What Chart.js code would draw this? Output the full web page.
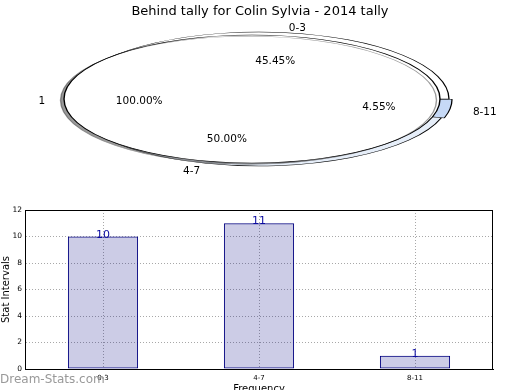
<!DOCTYPE html>
<html>
<head>
<meta charset="utf-8">
<script src="https://cdn.jsdelivr.net/npm/chart.js@4.4.1/dist/chart.umd.min.js"></script>
<style>
    html, body { margin: 0; padding: 0; background: #fff; overflow: hidden; }
    #wrap { position: relative; width: 520px; height: 390px; }
    #pieBox { position: absolute; left: 0; top: 0; width: 520px; height: 195px; }
    #barBox { position: absolute; left: 0; top: 195px; width: 520px; height: 200px; }
    #mark { position: absolute; left: 0; top: 372px; font: 12px "DejaVu Sans", sans-serif; color: #999; }
</style>
</head>
<body>
<div id="wrap">
    <div id="pieBox"><canvas id="pieChart"></canvas></div>
    <div id="barBox"><canvas id="barChart"></canvas></div>
    <div id="mark">Dream-Stats.com</div>
</div>
<script>
// ===================== DATA =====================
const chartTitle = 'Behind tally for Colin Sylvia - 2014 tally';
const categories = ['0-3', '4-7', '8-11'];
const tallies = [10, 11, 1];
const totalLabels = ['1'];
const totalValues = [1];
const yTicks = [0, 2, 4, 6, 8, 10, 12];

Chart.defaults.font.family = '"DejaVu Sans", sans-serif';
Chart.defaults.color = '#000';

// ellipse shapes for the two pies (matplotlib stretched them)
const ringShape = { cx: 259, cy: 99, rx: 190, ry: 67 };
const pieShape = { cx: 252, cy: 99, rx: 188, ry: 64 };

// pie draws clockwise from east, matplotlib counter-clockwise -> reverse
const ringNames = categories.slice().reverse();
const ringValues = tallies.slice().reverse();

function shapeFor(i) {
    return i === 0 ? ringShape : pieShape;
}

const ellipsePlugin = {
    id: 'ellipse',
    beforeDatasetDraw(chart, args) {
        const shape = shapeFor(args.index);
        const arc = args.meta.data[0];
        const r = arc.outerRadius;
        const ctx = chart.ctx;
        ctx.save();
        ctx.translate(shape.cx, shape.cy);
        ctx.scale(shape.rx / r, shape.ry / r);
        ctx.translate(-arc.x, -arc.y);
        if (args.index === 1) {
            ctx.shadowColor = 'rgba(70,70,70,0.55)';
            ctx.shadowOffsetX = -3.5;
            ctx.shadowOffsetY = 1.3;
        }
    },
    afterDatasetDraw(chart, args) {
        const ctx = chart.ctx;
        if (args.index === 1) {
            // outline of the full slice without the radial seam
            const arc = args.meta.data[0];
            ctx.beginPath();
            ctx.arc(arc.x, arc.y, arc.outerRadius, 0, Math.PI * 2);
            ctx.lineWidth = 0.45;
            ctx.strokeStyle = '#000';
            ctx.stroke();
        }
        ctx.restore();
    },
    afterDatasetsDraw(chart) {
        const ctx = chart.ctx;
        ctx.save();
        ctx.font = '10.5px "DejaVu Sans"';
        ctx.fillStyle = '#000';
        chart.data.datasets.forEach((ds, i) => {
            const meta = chart.getDatasetMeta(i);
            const shape = shapeFor(i);
            const total = ds.data.reduce((a, b) => a + b, 0);
            meta.data.forEach((arc, j) => {
                const mid = (arc.startAngle + arc.endAngle) / 2;
                const off = arc.options.offset || 0;
                const r = arc.outerRadius;
                const pt = k => ({
                    x: shape.cx + shape.rx / r * Math.cos(mid) * (k * r + off),
                    y: shape.cy + 2 + shape.ry / r * Math.sin(mid) * (k * r + off)
                });
                const lp = pt(1.1);
                ctx.textBaseline = 'middle';
                ctx.textAlign = Math.cos(mid) >= 0 ? 'left' : 'right';
                ctx.fillText(ds.names[j], lp.x, lp.y);
                const pp = pt(0.6);
                ctx.textAlign = 'center';
                ctx.fillText((ds.data[j] / total * 100).toFixed(2) + '%', pp.x, pp.y);
            });
        });
        ctx.restore();
    }
};

new Chart(document.getElementById('pieChart'), {
    type: 'pie',
    data: {
        labels: ringNames,
        datasets: [{
            data: ringValues,
            names: ringNames,
            weight: 1,
            order: 1,
            backgroundColor: ['#c6d9f6', '#e6eef9', '#ffffff'],
            borderColor: '#000',
            borderWidth: 0.45,
            offset: [2.5, 0, 0],
            clip: false
        }, {
            data: totalValues,
            names: totalLabels,
            weight: 9,
            order: 0,
            backgroundColor: '#ffffff',
            borderWidth: 0,
            clip: false
        }]
    },
    options: {
        responsive: true,
        maintainAspectRatio: false,
        animation: false,
        rotation: 90,
        radius: 67,
        plugins: {
            legend: { display: false },
            tooltip: { enabled: false },
            title: {
                display: true,
                text: chartTitle,
                color: '#000',
                font: { size: 13, weight: 'normal' },
                padding: { top: 4, bottom: 0 }
            }
        }
    },
    plugins: [ellipsePlugin]
});

// ===================== BAR CHART =====================
const framePlugin = {
    id: 'frame',
    afterDatasetsDraw(chart) {
        const ctx = chart.ctx;
        const a = chart.chartArea;
        ctx.save();
        ctx.strokeStyle = '#000';
        ctx.lineWidth = 1;
        ctx.strokeRect(Math.round(a.left) + 0.5, Math.round(a.top) + 0.5,
            Math.round(a.right - a.left) - 1, Math.round(a.bottom - a.top));

        // value labels above bars
        ctx.font = '11px "DejaVu Sans"';
        ctx.fillStyle = '#0a0aa0';
        ctx.textAlign = 'center';
        ctx.textBaseline = 'alphabetic';
        chart.getDatasetMeta(0).data.forEach((bar, i) => {
            ctx.fillText(String(chart.data.datasets[0].data[i]), bar.x, bar.y + 1);
        });
        ctx.restore();
    }
};

new Chart(document.getElementById('barChart'), {
    type: 'bar',
    data: {
        labels: categories,
        datasets: [{
            data: tallies,
            backgroundColor: 'rgba(0,0,128,0.2)',
            borderColor: '#000080',
            borderWidth: 1,
            borderSkipped: false,
            barPercentage: 0.45,
            categoryPercentage: 1
        }]
    },
    options: {
        responsive: true,
        maintainAspectRatio: false,
        animation: false,
        layout: { padding: { top: 15, right: 27, bottom: 0, left: 0 } },
        plugins: {
            legend: { display: false },
            tooltip: { enabled: false }
        },
        scales: {
            x: {
                grid: { offset: false, color: '#a8a8a8', drawTicks: false },
                border: { color: '#000', dash: [1, 2] },
                ticks: { font: { size: 7 }, color: '#000', padding: 5 },
                title: { display: true, text: 'Frequency', font: { size: 10 }, padding: 0 },
                afterFit: s => { s.height = 26; }
            },
            y: {
                min: yTicks[0],
                max: yTicks[yTicks.length - 1],
                afterBuildTicks: s => { s.ticks = yTicks.map(v => ({ value: v })); },
                grid: { color: '#a8a8a8', drawTicks: false },
                border: { color: '#000', dash: [1, 2] },
                ticks: { font: { size: 7.5 }, color: '#000', padding: 3 },
                title: { display: true, text: 'Stat Intervals', font: { size: 10 }, padding: 0 },
                afterFit: s => { s.width = 25; }
            }
        }
    },
    plugins: [framePlugin]
});
</script>
</body>
</html>
